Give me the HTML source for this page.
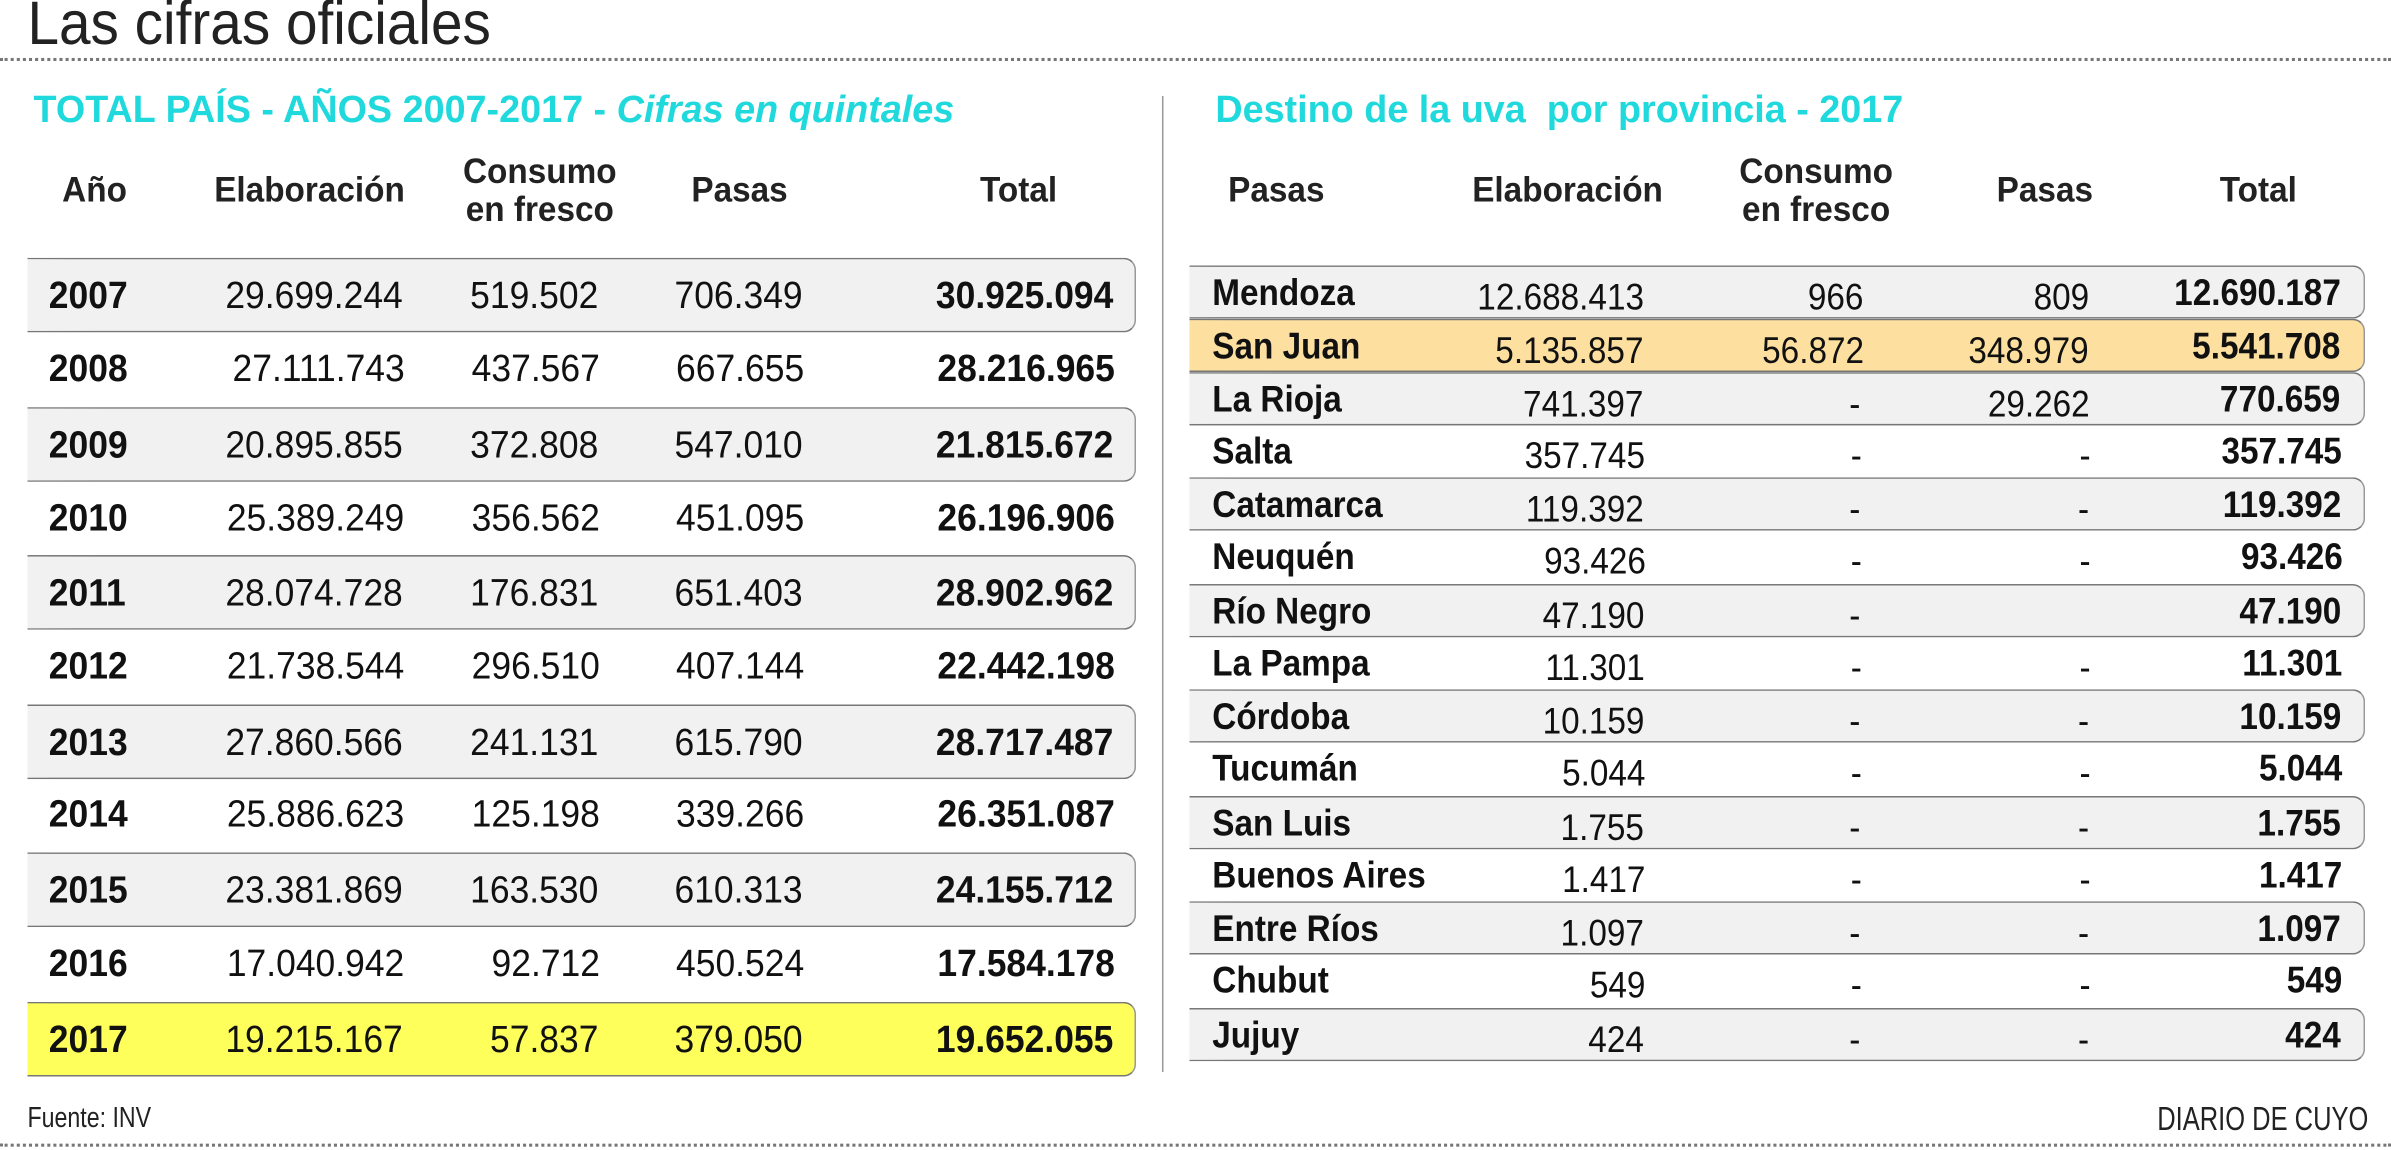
<!DOCTYPE html>
<html><head><meta charset="utf-8"><style>
html,body{margin:0;padding:0;background:#fff;width:2391px;height:1150px;overflow:hidden}
#w{position:absolute;left:0;top:0;width:1568px;height:754px;transform:scale(1.52487);transform-origin:0 0;font-family:"Liberation Sans Narrow","Liberation Sans",sans-serif;color:#111}
.a{position:absolute;white-space:nowrap}
.b{font-weight:bold}
.h{font-weight:bold;font-size:23px;text-align:center;line-height:25px;color:#222;transform:scaleX(.95);transform-origin:center}
.cy{color:#1fd9dc;font-weight:bold;font-size:25px;transform:scaleX(.99);transform-origin:left}
.row{position:absolute;box-sizing:border-box}
.g{background:#f1f1f1;border-top:1.5px solid #777;border-bottom:1.5px solid #777;border-right:1.5px solid #999;border-radius:0 8px 8px 0}
.y{background:#ffff5c;border-top:1.5px solid #777;border-bottom:1.5px solid #777;border-right:1.5px solid #999;border-radius:0 8px 8px 0}
.o{background:#fddf9f;border-top:1.5px solid #777;border-bottom:1.5px solid #777;border-right:1.5px solid #999;border-radius:0 8px 8px 0}
.L{left:18px;width:727px;height:49px}
.L span{position:absolute;top:0;line-height:49px;font-size:25px;transform:scaleX(.93);transform-origin:right}
.R{left:780px;width:771px;height:35px}
.R span{position:absolute;top:0;line-height:35px;font-size:24px;transform:scaleX(.91);transform-origin:right}
.R span.n{top:3px}
span.lf{transform-origin:left !important}
</style></head><body><div id="w">
<div class="a" style="left:18px;top:-6px;font-size:40px;color:#222;transform:scaleX(.93);transform-origin:left">Las cifras oficiales</div>
<div class="a" style="left:0;top:38px;width:1568px;border-top:2px dotted #777"></div>
<div class="a" style="left:0;top:750px;width:1568px;border-top:2px dotted #777"></div>
<div class="a" style="left:762px;top:63px;height:640px;border-left:1.5px solid #999"></div>
<div class="a cy" style="left:22px;top:58px">TOTAL PAÍS - AÑOS 2007-2017 - <i>Cifras en quintales</i></div>
<div class="a cy" style="left:797px;top:58px">Destino de la uva&nbsp; por provincia - 2017</div>

<div class="a h" style="left:22px;width:80px;top:112px">Año</div>
<div class="a h" style="left:133px;width:140px;top:112px">Elaboración</div>
<div class="a h" style="left:284px;width:140px;top:100px">Consumo<br>en fresco</div>
<div class="a h" style="left:435px;width:100px;top:112px">Pasas</div>
<div class="a h" style="left:618px;width:100px;top:112px">Total</div>

<div class="a h" style="left:787px;width:100px;top:112px">Pasas</div>
<div class="a h" style="left:958px;width:140px;top:112px">Elaboración</div>
<div class="a h" style="left:1121px;width:140px;top:100px">Consumo<br>en fresco</div>
<div class="a h" style="left:1291px;width:100px;top:112px">Pasas</div>
<div class="a h" style="left:1431px;width:100px;top:112px">Total</div>

<div class="row L g" style="top:169px"><span class="b lf" style="left:14px">2007</span><span style="right:480px">29.699.244</span><span style="right:352px">519.502</span><span style="right:218px">706.349</span><span class="b" style="right:14px">30.925.094</span></div>
<div class="row L" style="top:218px"><span class="b lf" style="left:14px">2008</span><span style="right:480px">27.111.743</span><span style="right:352px">437.567</span><span style="right:218px">667.655</span><span class="b" style="right:14px">28.216.965</span></div>
<div class="row L g" style="top:267px"><span class="b lf" style="left:14px">2009</span><span style="right:480px">20.895.855</span><span style="right:352px">372.808</span><span style="right:218px">547.010</span><span class="b" style="right:14px">21.815.672</span></div>
<div class="row L" style="top:316px"><span class="b lf" style="left:14px">2010</span><span style="right:480px">25.389.249</span><span style="right:352px">356.562</span><span style="right:218px">451.095</span><span class="b" style="right:14px">26.196.906</span></div>
<div class="row L g" style="top:364px"><span class="b lf" style="left:14px">2011</span><span style="right:480px">28.074.728</span><span style="right:352px">176.831</span><span style="right:218px">651.403</span><span class="b" style="right:14px">28.902.962</span></div>
<div class="row L" style="top:413px"><span class="b lf" style="left:14px">2012</span><span style="right:480px">21.738.544</span><span style="right:352px">296.510</span><span style="right:218px">407.144</span><span class="b" style="right:14px">22.442.198</span></div>
<div class="row L g" style="top:462px"><span class="b lf" style="left:14px">2013</span><span style="right:480px">27.860.566</span><span style="right:352px">241.131</span><span style="right:218px">615.790</span><span class="b" style="right:14px">28.717.487</span></div>
<div class="row L" style="top:510px"><span class="b lf" style="left:14px">2014</span><span style="right:480px">25.886.623</span><span style="right:352px">125.198</span><span style="right:218px">339.266</span><span class="b" style="right:14px">26.351.087</span></div>
<div class="row L g" style="top:559px"><span class="b lf" style="left:14px">2015</span><span style="right:480px">23.381.869</span><span style="right:352px">163.530</span><span style="right:218px">610.313</span><span class="b" style="right:14px">24.155.712</span></div>
<div class="row L" style="top:608px"><span class="b lf" style="left:14px">2016</span><span style="right:480px">17.040.942</span><span style="right:352px">92.712</span><span style="right:218px">450.524</span><span class="b" style="right:14px">17.584.178</span></div>
<div class="row L y" style="top:657px"><span class="b lf" style="left:14px">2017</span><span style="right:480px">19.215.167</span><span style="right:352px">57.837</span><span style="right:218px">379.050</span><span class="b" style="right:14px">19.652.055</span></div>

<div class="row R g" style="top:174px"><span class="b lf" style="left:15px">Mendoza</span><span class="n" style="right:472px">12.688.413</span><span class="n" style="right:328px">966</span><span class="n" style="right:180px">809</span><span class="b" style="right:15px">12.690.187</span></div>
<div class="row R o" style="top:209px"><span class="b lf" style="left:15px">San Juan</span><span class="n" style="right:472px">5.135.857</span><span class="n" style="right:328px">56.872</span><span class="n" style="right:180px">348.979</span><span class="b" style="right:15px">5.541.708</span></div>
<div class="row R g" style="top:244px"><span class="b lf" style="left:15px">La Rioja</span><span class="n" style="right:472px">741.397</span><span class="n" style="right:330px">-</span><span class="n" style="right:180px">29.262</span><span class="b" style="right:15px">770.659</span></div>
<div class="row R" style="top:279px"><span class="b lf" style="left:15px">Salta</span><span class="n" style="right:472px">357.745</span><span class="n" style="right:330px">-</span><span class="n" style="right:180px">-</span><span class="b" style="right:15px">357.745</span></div>
<div class="row R g" style="top:313px"><span class="b lf" style="left:15px">Catamarca</span><span class="n" style="right:472px">119.392</span><span class="n" style="right:330px">-</span><span class="n" style="right:180px">-</span><span class="b" style="right:15px">119.392</span></div>
<div class="row R" style="top:348px"><span class="b lf" style="left:15px">Neuquén</span><span class="n" style="right:472px">93.426</span><span class="n" style="right:330px">-</span><span class="n" style="right:180px">-</span><span class="b" style="right:15px">93.426</span></div>
<div class="row R g" style="top:383px"><span class="b lf" style="left:15px">Río Negro</span><span class="n" style="right:472px">47.190</span><span class="n" style="right:330px">-</span><span class="b" style="right:15px">47.190</span></div>
<div class="row R" style="top:418px"><span class="b lf" style="left:15px">La Pampa</span><span class="n" style="right:472px">11.301</span><span class="n" style="right:330px">-</span><span class="n" style="right:180px">-</span><span class="b" style="right:15px">11.301</span></div>
<div class="row R g" style="top:452px"><span class="b lf" style="left:15px">Córdoba</span><span class="n" style="right:472px">10.159</span><span class="n" style="right:330px">-</span><span class="n" style="right:180px">-</span><span class="b" style="right:15px">10.159</span></div>
<div class="row R" style="top:487px"><span class="b lf" style="left:15px">Tucumán</span><span class="n" style="right:472px">5.044</span><span class="n" style="right:330px">-</span><span class="n" style="right:180px">-</span><span class="b" style="right:15px">5.044</span></div>
<div class="row R g" style="top:522px"><span class="b lf" style="left:15px">San Luis</span><span class="n" style="right:472px">1.755</span><span class="n" style="right:330px">-</span><span class="n" style="right:180px">-</span><span class="b" style="right:15px">1.755</span></div>
<div class="row R" style="top:557px"><span class="b lf" style="left:15px">Buenos Aires</span><span class="n" style="right:472px">1.417</span><span class="n" style="right:330px">-</span><span class="n" style="right:180px">-</span><span class="b" style="right:15px">1.417</span></div>
<div class="row R g" style="top:591px"><span class="b lf" style="left:15px">Entre Ríos</span><span class="n" style="right:472px">1.097</span><span class="n" style="right:330px">-</span><span class="n" style="right:180px">-</span><span class="b" style="right:15px">1.097</span></div>
<div class="row R" style="top:626px"><span class="b lf" style="left:15px">Chubut</span><span class="n" style="right:472px">549</span><span class="n" style="right:330px">-</span><span class="n" style="right:180px">-</span><span class="b" style="right:15px">549</span></div>
<div class="row R g" style="top:661px"><span class="b lf" style="left:15px">Jujuy</span><span class="n" style="right:472px">424</span><span class="n" style="right:330px">-</span><span class="n" style="right:180px">-</span><span class="b" style="right:15px">424</span></div>

<div class="a" style="left:18px;top:723px;font-size:19px;color:#222;transform:scaleX(.8);transform-origin:left">Fuente: INV</div>
<div class="a" style="right:15px;top:721px;font-size:22px;color:#222;transform:scaleX(.76);transform-origin:right">DIARIO DE CUYO</div>
</div></body></html>
